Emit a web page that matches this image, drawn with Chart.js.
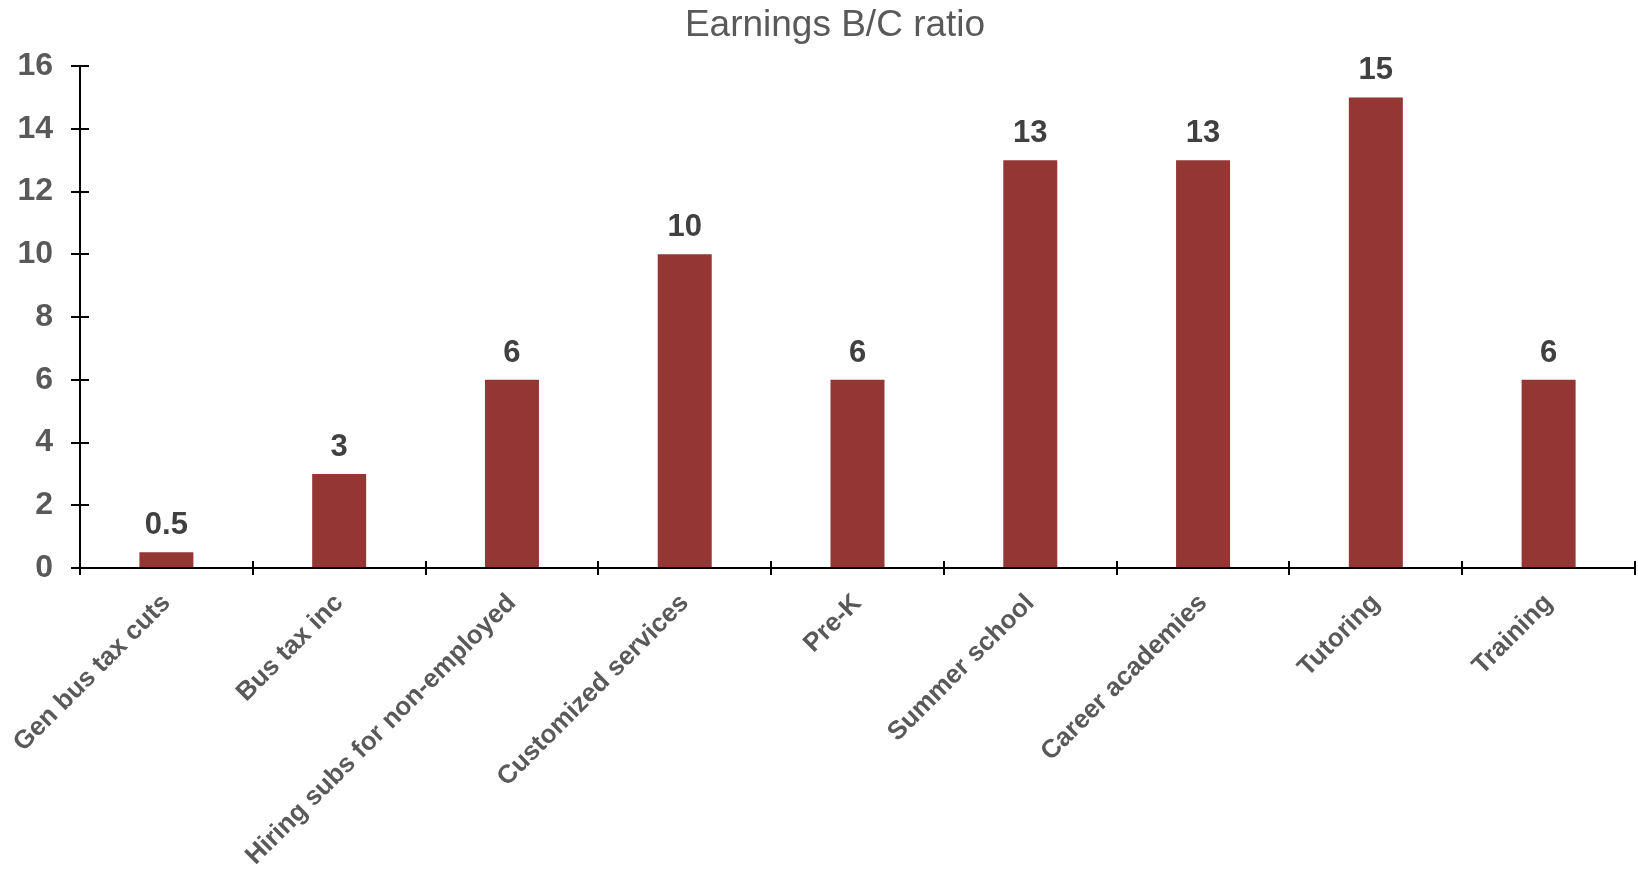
<!DOCTYPE html>
<html>
<head>
<meta charset="utf-8">
<title>Earnings B/C ratio</title>
<script src="https://cdn.jsdelivr.net/npm/chart.js@4/dist/chart.umd.min.js"></script>
<style>
    html, body { margin: 0; padding: 0; background: #ffffff; }
    #wrap { width: 1638px; height: 870px; }
</style>
</head>
<body>
<div id="wrap"><canvas id="ratioChart" width="1638" height="870"></canvas></div>
<script>
    // Programs and their earnings benefit/cost ratios
    const programs = [
        'Gen bus tax cuts',
        'Bus tax inc',
        'Hiring subs for non-employed',
        'Customized services',
        'Pre-K',
        'Summer school',
        'Career academies',
        'Tutoring',
        'Training'
    ];
    const ratios = [0.5, 3, 6, 10, 6, 13, 13, 15, 6];
    const yTicks = [0, 2, 4, 6, 8, 10, 12, 14, 16];
    const chartTitle = 'Earnings B/C ratio';

    const FONT = "'Liberation Sans', Arial, Helvetica, sans-serif";
    const BAR_RED = '#943634';

    // Title sits a little right of the canvas centre
    const titleText = {
        id: 'titleText',
        afterDraw(chart) {
            const ctx = chart.ctx;
            ctx.save();
            ctx.font = '37px ' + FONT;
            ctx.fillStyle = '#595959';
            ctx.textAlign = 'center';
            ctx.textBaseline = 'alphabetic';
            ctx.fillText(chartTitle, 835, 36);
            ctx.restore();
        }
    };

    // Value printed above each bar
    const valueLabels = {
        id: 'valueLabels',
        afterDatasetsDraw(chart) {
            const ctx = chart.ctx;
            const meta = chart.getDatasetMeta(0);
            ctx.save();
            ctx.font = 'bold 31px ' + FONT;
            ctx.fillStyle = '#404040';
            ctx.textAlign = 'center';
            ctx.textBaseline = 'alphabetic';
            meta.data.forEach((bar, i) => {
                ctx.fillText(String(ratios[i]), bar.x, bar.y - 18);
            });
            ctx.restore();
        }
    };

    // Tick marks cross the axis lines, so draw the inner half too
    const innerTicks = {
        id: 'innerTicks',
        afterDraw(chart) {
            const ctx = chart.ctx;
            const x = chart.scales.x;
            const y = chart.scales.y;
            ctx.save();
            ctx.strokeStyle = '#000000';
            ctx.lineWidth = 2;
            ctx.beginPath();
            yTicks.forEach(v => {
                const py = Math.round(y.getPixelForValue(v));
                ctx.moveTo(x.left, py);
                ctx.lineTo(x.left + 9, py);
            });
            for (let i = 0; i <= programs.length; i++) {
                const px = Math.round(x.getPixelForValue(i - 0.5));
                ctx.moveTo(px, y.bottom);
                ctx.lineTo(px, y.bottom - 7);
            }
            ctx.stroke();
            ctx.restore();
        }
    };

    const ctx = document.getElementById('ratioChart').getContext('2d');
    new Chart(ctx, {
        type: 'bar',
        data: {
            labels: programs,
            datasets: [{
                label: chartTitle,
                data: ratios,
                backgroundColor: BAR_RED,
                borderWidth: 0,
                categoryPercentage: 1.0,
                barPercentage: 0.3125
            }]
        },
        options: {
            responsive: false,
            animation: false,
            layout: {
                padding: { left: 0, right: 3, top: 66, bottom: 0 }
            },
            plugins: {
                legend: { display: false },
                tooltip: { enabled: false },
                title: { display: false }
            },
            scales: {
                x: {
                    afterFit(scale) { scale.height = 302; },
                    grid: {
                        display: true,
                        drawOnChartArea: false,
                        offset: true,
                        color: '#000000',
                        lineWidth: 2,
                        tickLength: 7
                    },
                    border: { display: true, color: '#000000', width: 2 },
                    ticks: {
                        color: '#595959',
                        font: { family: FONT, size: 26, weight: 'bold' },
                        minRotation: 45,
                        maxRotation: 45,
                        autoSkip: false,
                        padding: 13
                    }
                },
                y: {
                    min: 0,
                    max: 16,
                    afterFit(scale) { scale.width = 80; },
                    afterBuildTicks(scale) {
                        scale.ticks = yTicks.map(v => ({ value: v }));
                    },
                    grid: {
                        display: true,
                        drawOnChartArea: false,
                        color: '#000000',
                        lineWidth: 2,
                        tickLength: 9
                    },
                    border: { display: true, color: '#000000', width: 2 },
                    ticks: {
                        color: '#595959',
                        font: { family: FONT, size: 32, weight: 'bold' },
                        padding: 18
                    }
                }
            }
        },
        plugins: [valueLabels, innerTicks, titleText]
    });
</script>
</body>
</html>
